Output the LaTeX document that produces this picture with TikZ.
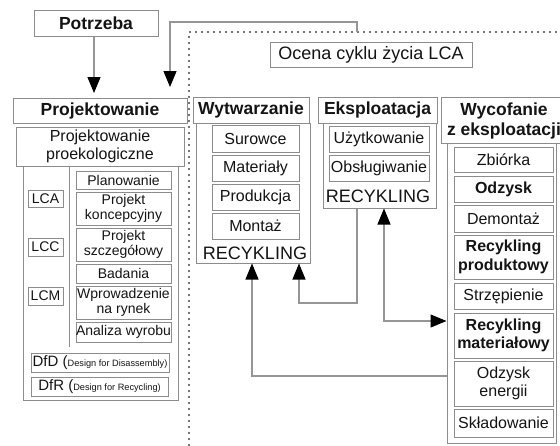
\documentclass[tikz,border=0pt]{standalone}
\usepackage{fontspec}
\setmainfont{Liberation Sans}
\usetikzlibrary{arrows.meta}
\definecolor{bord}{RGB}{140,140,140}
\definecolor{linec}{RGB}{150,150,150}
\definecolor{txt}{RGB}{20,20,20}
\definecolor{dotc}{RGB}{70,70,70}
\newcommand{\fsHead}{\fontsize{17.5}{20}\selectfont\bfseries}
\newcommand{\fsBig}{\fontsize{18}{20}\selectfont}
\newcommand{\fsMid}{\fontsize{16}{18.5}\selectfont}
\newcommand{\fsSml}{\fontsize{14}{15.5}\selectfont}
\begin{document}
\begin{tikzpicture}[x=1pt,y=-1pt,
  every node/.style={inner sep=0pt,text=txt},
  bx/.style={draw=bord,line width=1pt,align=center},
  colbox/.style={draw=bord,line width=1pt},
  head/.style={bx,font=\fsHead},
  mid/.style={bx,font=\fsMid,minimum width=#1},
  sml/.style={bx,font=\fsSml},
  con/.style={draw=linec,line width=1.1pt},
  tip/.style={-{Triangle[width=13pt,length=16pt,color=black,fill=black]}},
  tips/.style={{Triangle[width=13pt,length=16pt,color=black,fill=black]}-{Triangle[width=13pt,length=16pt,color=black,fill=black]}},
  dotline/.style={draw=dotc,line width=2.2pt,line cap=round,dash pattern=on 0pt off 6pt}
]
\useasboundingbox (0,0) rectangle (560,445);
\clip (0,0) rectangle (560,445);
\fill[white] (0,0) rectangle (560,445);

% dotted frame
\draw[dotline] (189,445) -- (189,32) -- (560,32);

% top part
\node[head,minimum width=124,minimum height=26] (potrz) at (96,23) {Potrzeba};
\node[bx,font=\fsBig,minimum width=202,minimum height=25] (ocena) at (371,54.5) {Ocena cyklu życia LCA};

% Projektowanie
\node[head,minimum width=174,minimum height=25] (proj) at (100,110.5) {Projektowanie};
\node[bx,font=\fsMid,minimum width=168,minimum height=39] (proek) at (100,146.5) {Projektowanie\\[-0.5pt]proekologiczne};
\node[colbox,minimum width=155,minimum height=234] (pcol) at (100.5,283) {};
\coordinate (dv1) at (69,166);
\coordinate (dv2) at (69,347);
\draw[draw=bord,line width=1pt] (dv1) -- (dv2);

\node[sml,minimum width=35,minimum height=17] (lca) at (45.5,198.5) {LCA};
\node[sml,minimum width=35,minimum height=18] (lcc) at (45.5,247) {LCC};
\node[sml,minimum width=35,minimum height=18] (lcm) at (45.5,296) {LCM};

\node[sml,minimum width=95,minimum height=18] (plan) at (123.5,180) {Planowanie};
\node[sml,minimum width=95,minimum height=33] (pk) at (123.5,208.5) {Projekt\\koncepcyjny};
\node[sml,minimum width=95,minimum height=33] (psz) at (123.5,244.5) {Projekt\\szczegółowy};
\node[sml,minimum width=95,minimum height=19] (bad) at (123.5,273.5) {Badania};
\node[sml,minimum width=95,minimum height=33] (wpr) at (123.5,302.5) {Wprowadzenie\\na rynek};
\node[sml,minimum width=95,minimum height=20] (anal) at (123.5,332) {Analiza wyrobu};

\node[bx,minimum width=138,minimum height=19] (dfd) at (100,362.5) {{\fontsize{15}{16}\selectfont DfD (}{\fontsize{9.2}{10}\selectfont Design for Disassembly)}};
\node[bx,minimum width=137,minimum height=19] (dfr) at (99.5,386.5) {{\fontsize{15}{16}\selectfont DfR (}{\fontsize{9.2}{10}\selectfont Design for Recycling)}};

% Wytwarzanie
\node[head,minimum width=116,minimum height=26] (wyt) at (251,110) {Wytwarzanie};
\node[colbox,minimum width=114,minimum height=140] (wycol) at (253,193) {};
\node[mid=87,minimum height=27] (sur) at (255.5,138.5) {Surowce};
\node[mid=87,minimum height=26] (mat) at (255.5,168) {Materiały};
\node[mid=87,minimum height=26] (prod) at (255.5,197) {Produkcja};
\node[mid=87,minimum height=26] (mont) at (255.5,226) {Montaż};
\node[font=\fsBig] (rec1) at (255,253) {RECYKLING};

% Eksploatacja
\node[head,minimum width=119,minimum height=26] (eks) at (377.5,110) {Eksploatacja};
\node[colbox,minimum width=113,minimum height=85] (ekcol) at (379.5,165.5) {};
\node[mid=100,minimum height=26] (uzy) at (379,139) {Użytkowanie};
\node[mid=100,minimum height=26] (obs) at (379,168) {Obsługiwanie};
\node[font=\fsBig] (rec2) at (378,196) {RECYKLING};

% Wycofanie z eksploatacji
\node[colbox,minimum width=109,minimum height=300] (wfcol) at (501.5,293) {};
\node[head,minimum width=124,minimum height=46,align=center] (wyc) at (503,120) {};
\node[font=\fsHead,align=center] (wyct) at (504,121) {Wycofanie\\z eksploatacji};
\node[mid=99,minimum height=25] (zbi) at (503.5,159.5) {Zbiórka};
\node[mid=99,minimum height=26,font=\fsMid\bfseries] (odz) at (503.5,189) {Odzysk};
\node[mid=99,minimum height=27] (dem) at (503.5,218.5) {Demontaż};
\node[mid=99,minimum height=44,font=\fsMid\bfseries] (rprod) at (503.5,257) {Recykling\\produktowy};
\node[mid=99,minimum height=26] (strz) at (503.5,296) {Strzępienie};
\node[mid=99,minimum height=45,font=\fsMid\bfseries] (rmat) at (503.5,335.5) {Recykling\\materiałowy};
\node[mid=99,minimum height=45] (oen) at (503.5,383.5) {Odzysk\\energii};
\node[mid=99,minimum height=28] (skl) at (503.5,423) {Składowanie};

% connectors
\coordinate (pa) at (94,93);
\draw[con,tip] (potrz.south -| pa) -- (pa);

\coordinate (t1) at (357,32);
\coordinate (t2) at (357,22);
\coordinate (t3) at (170,22);
\coordinate (t4) at (170,87);
\draw[con,tip] (t1) -- (t2) -- (t3) -- (t4);

\coordinate (k1) at (357,303);
\coordinate (k1b) at (299,303);
\draw[con,tip] (ekcol.south -| k1) -- (k1) -- (k1b) -- (wycol.south -| k1b);

\coordinate (k2) at (252,376);
\draw[con,tip] (wfcol.west |- k2) -- (k2) -- (wycol.south -| k2);

\coordinate (k3) at (384,321);
\draw[con,tips] (ekcol.south -| k3) -- (k3) -- (wfcol.west |- k3);
\end{tikzpicture}
\end{document}
